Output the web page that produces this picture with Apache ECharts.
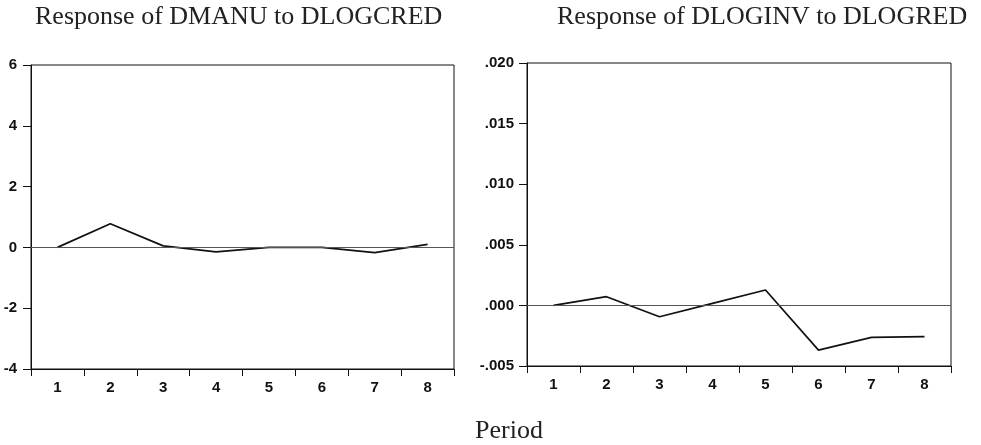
<!DOCTYPE html>
<html>
<head>
<meta charset="utf-8">
<script src="https://cdn.jsdelivr.net/npm/echarts@6/dist/echarts.min.js"></script>
<style>
  html, body { margin: 0; padding: 0; background: #fff; }
  #chart { width: 981px; height: 445px; }
</style>
</head>
<body>
<div id="chart"></div>
<script>
// Impulse responses over an 8-period horizon
const periods = ['1', '2', '3', '4', '5', '6', '7', '8'];
const dmanuResponse = [0.0, 0.78, 0.05, -0.15, 0.0, 0.0, -0.17, 0.1];
const dloginvResponse = [0.0, 0.00072, -0.00094, 0.00017, 0.00127, -0.00369, -0.00264, -0.00258];
const leftTitle = 'Response of DMANU to DLOGCRED';
const rightTitle = 'Response of DLOGINV to DLOGRED';
const xTitle = 'Period';

const chart = echarts.init(document.getElementById('chart'));

const tickFont = {
  fontFamily: "'Liberation Sans Narrow', 'Liberation Sans', sans-serif",
  fontWeight: 'bold', fontSize: 15, color: '#111'
};
const titleFont = {
  fontFamily: "'Liberation Serif', serif", fontWeight: 'normal', fontSize: 26, color: '#222'
};

function xAxis(gridIndex) {
  return {
    type: 'category', gridIndex, data: periods, boundaryGap: true,
    axisLine: { show: true, onZero: false, lineStyle: { color: '#111', width: 1 } },
    axisTick: { show: true, length: 7, lineStyle: { color: '#111' } },
    axisLabel: Object.assign({ margin: 11 }, tickFont),
    splitLine: { show: false }
  };
}

function yAxis(gridIndex, min, max, interval, margin, fmt) {
  return {
    type: 'value', gridIndex, min, max, interval,
    axisLine: { show: true, lineStyle: { color: '#111', width: 1 } },
    axisTick: { show: true, length: 8, lineStyle: { color: '#111' } },
    axisLabel: Object.assign({ margin, formatter: fmt }, tickFont),
    splitLine: { show: false }
  };
}

function series(xi, data) {
  return {
    type: 'line', xAxisIndex: xi, yAxisIndex: xi, data,
    symbol: 'none', lineStyle: { color: '#111', width: 1.7 },
    markLine: {
      silent: true, symbol: 'none', label: { show: false },
      lineStyle: { color: '#555', width: 1, type: 'solid' },
      data: [{ yAxis: 0 }]
    }
  };
}

chart.setOption({
  animation: false,
  backgroundColor: '#fff',
  title: [
    { text: leftTitle, left: 35, top: 4, padding: 0, textStyle: titleFont },
    { text: rightTitle, left: 557, top: 4, padding: 0, textStyle: titleFont },
    { text: xTitle, left: 475, top: 418, padding: 0, textStyle: titleFont }
  ],
  grid: [
    { left: 31, top: 65, width: 423, height: 304, show: true, borderColor: '#111', borderWidth: 1, backgroundColor: 'transparent' },
    { left: 527, top: 63, width: 424, height: 303, show: true, borderColor: '#111', borderWidth: 1, backgroundColor: 'transparent' }
  ],
  xAxis: [xAxis(0), xAxis(1)],
  yAxis: [
    yAxis(0, -4, 6, 2, 14, v => String(v)),
    yAxis(1, -0.005, 0.02, 0.005, 13, v => {
      const s = (Math.round(v * 1000) / 1000).toFixed(3);
      return s.replace(/^(-?)0\./, '$1.');
    })
  ],
  series: [series(0, dmanuResponse), series(1, dloginvResponse)]
});
</script>
</body>
</html>
